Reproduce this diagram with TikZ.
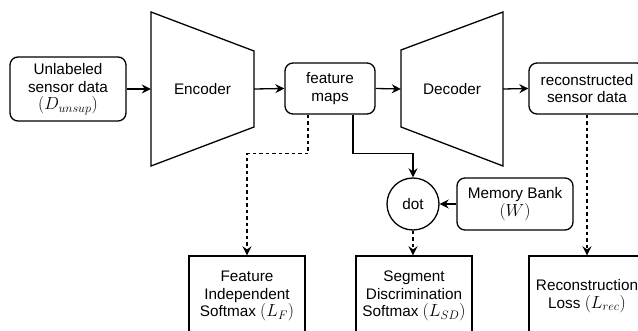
\RequirePackage{fix-cm}
\documentclass[tikz,border=0pt]{standalone}
\usepackage{fontspec}
\setmainfont{Liberation Sans}
\usetikzlibrary{arrows.meta,calc}
% formulas are set a little larger than the surrounding labels
\newcommand\labelmath[1]{{\fontsize{17.5}{17.6}\selectfont$#1$}}
\begin{document}
\begin{tikzpicture}[x=1pt,y=-1pt,
  every node/.style={font=\fontsize{15.3}{17.6}\selectfont, align=center, inner sep=0pt},
  line/.style={line width=1.3pt, line join=miter},
  tip/.style={-{Stealth[length=9pt,width=9pt,inset=3pt]}},
  rbox/.style={draw, line width=1.3pt, rounded corners=8pt, minimum width=116pt},
  sbox/.style={draw, line width=1.3pt, minimum width=116pt, minimum height=80pt},
  ghost/.style={minimum width=103pt, minimum height=154pt},
  dashline/.style={dash pattern=on 3.5pt off 3pt}
]
\useasboundingbox (0,0) rectangle (638,331);
\clip (0,0) rectangle (638,331);

% input, bottleneck and output boxes
\node[rbox, minimum height=64pt] (unl) at (68,89) {Unlabeled\\sensor data\\\labelmath{(D_{unsup})}};
\node[rbox, minimum width=90pt, minimum height=51pt] (fm) at (330,88.5) {feature\\maps};
\node[rbox, minimum height=51pt] (rec) at (587,88.5) {reconstructed\\sensor data};

% encoder and decoder trapezoids
\node[ghost] (enc) at (202.5,89) {Encoder};
\draw[line] (151,12) -- (254,51) -- (254,127) -- (151,166) -- cycle;
\node[ghost, minimum width=102pt] (dec) at (452,89) {Decoder};
\draw[line] (401,50) -- (503,12) -- (503,166) -- (401,127) -- cycle;

% similarity with the memory bank
\node[draw, circle, line width=1.3pt, minimum size=52pt] (dot) at (413,204) {dot};
\node[rbox, minimum height=52pt] (mem) at (515,204) {Memory Bank\\\labelmath{(W)}};

% loss terms
\node[sbox] (fi) at (247,296) {Feature\\Independent\\Softmax \labelmath{(L_F)}};
\node[sbox] (sd) at (414,296) {Segment\\Discrimination\\Softmax \labelmath{(L_{SD})}};
\node[sbox] (rl) at (587,296) {Reconstruction\\Loss \labelmath{(L_{rec})}};

% main data flow
\draw[line, tip] (unl) -- (enc.west);
\draw[line, tip] (enc.east) -- (fm.west);
\draw[line, tip] (fm.east) -- (dec.west);
\draw[line, tip] (dec.east) -- (rec.west);

% branches to the losses
\draw[line, tip] ([xshift=23pt]fm.south) -- ++(0,39) -| (dot.north);
\draw[line, tip] (mem.west) -- (dot.east);
\draw[line, tip, dashline] ([xshift=-22pt]fm.south) -- ++(0,39) -| (fi.north);
\draw[line, tip, dashline] (dot.south) -- (sd.north -| dot.south);
\draw[line, tip, dashline] (rec.south) -- (rl.north);
\end{tikzpicture}
\end{document}
